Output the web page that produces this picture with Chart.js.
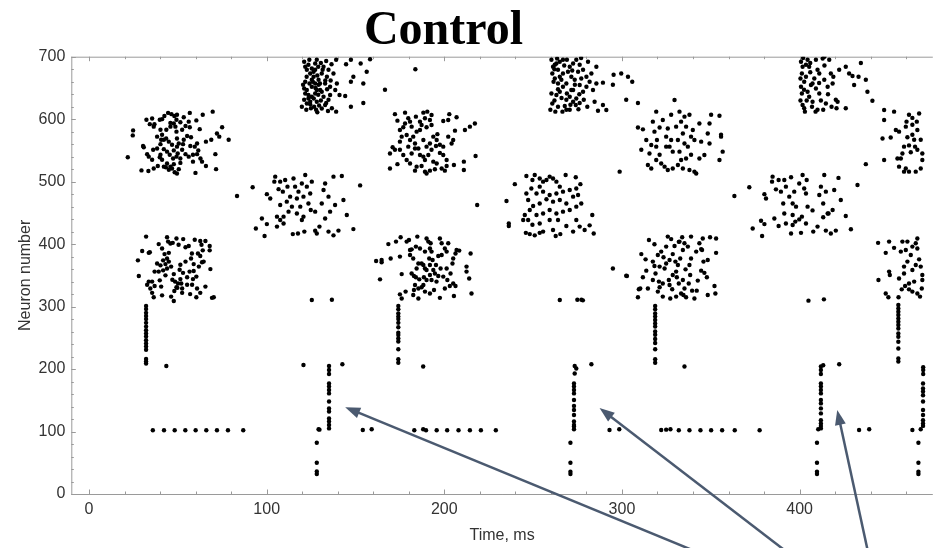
<!DOCTYPE html>
<html>
<head>
<meta charset="utf-8">
<script src="https://cdn.jsdelivr.net/npm/chart.js@4.4.1/dist/chart.umd.min.js"></script>
<style>
  html, body { margin: 0; padding: 0; background: #fff; }
  #wrap { width: 935px; height: 548px; }
</style>
</head>
<body>
<div id="wrap"><canvas id="raster" width="935" height="548"></canvas></div>
<script>
// Spike raster: [time (ms), neuron index] for every spike.

// neurons ~520-610, first wave
const pop520_w1 = [[21.8,539],[24.8,582],[24.6,574],[30.4,557],[30.8,555],[29.5,518],[33.4,517],[32.3,599],[34.2,592],[35.5,601],[36.8,592],[39.8,599],[41.1,600],[42.4,605],[44.5,610],[46.4,608],[48,605],[49.5,607],[53.3,603],[56.7,610],[60.4,598],[64,607],[69.6,612],[74.9,587],[72,577],[73.3,572],[78.6,567],[68.8,567],[65.8,564],[71.1,544],[71.5,520],[65.8,525],[63.6,532],[59.9,514],[60.8,544],[61.5,550],[58.5,543],[57,557],[56.1,540],[55.2,573],[57.4,571],[56.7,587],[56.1,596],[62.3,584],[52.9,560],[52.4,551],[51.4,537],[47.7,528],[45.8,524],[48.2,515],[49.5,513],[50.5,520],[51.4,530],[49.2,540],[47.7,550],[46.7,559],[44.9,564],[43.4,569],[41.1,575],[40.2,583],[43.5,583],[45.8,588],[47.7,593],[48.6,588],[49.2,580],[49.5,569],[49.5,556],[50.5,561],[53.3,567],[54.3,544],[43.9,548],[42.1,552],[40.2,543],[39.8,539],[41.1,535],[43.9,529],[42.1,524],[38.7,525],[36.4,521],[35.5,535],[33.6,540],[32.7,544],[36.1,551],[38.3,553],[40.2,560],[42.1,567],[43.2,523],[44.9,519],[46.7,521],[36.4,588],[38.3,572],[40.6,567],[45.4,543],[47.3,537],[49.9,545],[52.4,583],[54.3,589],[51.4,595],[49.2,599],[45.8,594],[59.5,556],[60.8,561],[58.5,532],[62.7,537]];

// neurons ~300-410, first wave
const pop300_w1 = [[32.1,412],[29.9,389],[33.6,386],[27.5,374],[28,349],[34.2,387],[39.2,400],[43.9,411],[44.5,404],[45.8,401],[47.1,402],[49.2,409],[50.4,399],[53,408],[54.3,395],[56.1,397],[59.5,407],[62.6,405],[65.5,405],[67.9,397],[67.9,390],[63.3,399],[64,390],[61.3,385],[62.6,381],[64.5,372],[63.6,371],[61.8,364],[68.3,360],[57.9,385],[57.4,377],[58.9,368],[56.6,356],[58.9,357],[60.4,348],[58.5,344],[55.2,347],[52.9,354],[51.4,344],[51.9,337],[52.4,329],[50.1,337],[49.2,331],[48,325],[48.4,340],[47.7,352],[51,359],[46.2,364],[44.9,372],[43.9,377],[43,368],[41.7,374],[40.2,366],[38.3,369],[36.9,356],[39.2,356],[41.7,358],[43,350],[43.9,361],[44.9,386],[42.5,384],[41.1,393],[39.8,342],[40.6,332],[36.9,333],[35.5,340],[33.6,340],[32.7,335],[34.5,329],[35.5,322],[36.4,315],[41.1,318],[46.2,316],[49.7,330],[52.4,322],[56.9,320],[60.4,315],[60.8,329],[62.6,322],[65.5,332],[70.2,315],[69.2,314],[55.2,335],[58,335],[47.7,309],[46.9,343],[51.4,367],[54.3,372]];

// neurons ~610-700, first wave
const pop610_w1 = [[121.1,692],[121.7,684],[122.6,679],[123.5,687],[124.5,673],[125.4,681],[126.4,676],[127.3,689],[128.2,695],[125.4,663],[124.1,657],[121.7,660],[121.1,649],[122.6,646.7],[125.4,652],[127.3,657],[128.2,646.7],[121.7,641],[123.5,638.7],[125.4,636],[127.3,641],[121.1,631],[122.6,625],[124.5,628],[119.8,620],[122.3,615],[124.9,617.6],[126.7,620],[123.5,633],[127.3,679],[126.4,668],[129.2,663],[131,673],[132,684],[132.9,657],[133.9,668],[134.8,679],[135.7,652],[137.6,673],[130.1,646.7],[128.2,628],[132,636],[127.8,615],[132.9,622.6],[134.8,631],[136.7,617.6],[139.1,612],[138.6,646.7],[139.5,657],[139.1,695],[144.7,688],[144.2,637],[147.4,695],[148.8,668],[147.4,660],[147.4,620],[152.9,689],[154.4,657],[154.4,626],[156.3,676],[158.2,696],[141,638.7],[135.7,638.7],[129.2,655],
  [130.5,690],[129,684],[131.5,679],[126,660],[128.5,670],[133,662],[130,657],[127.5,650],[131,644],[134,648],[129,639],[126.5,633],[130.5,630],[133.5,626],[129.5,622],[124.5,624],[131,617],[128.5,611],[134.5,613],[136.5,688],[133.5,693],[124,695],[122.5,668],[120.5,655],[136,662]];

// neurons ~420-510, first wave
const pop420_w1 = [[83.3,477],[92.1,491],[100.1,480],[102,473],[104.8,508],[104.3,500],[106.7,488],[107.6,500],[109.1,484],[110.4,502.6],[111.7,492],[113.2,476],[114.2,460],[115.1,505],[116,492],[117,473],[117.9,484],[118.9,460],[119.8,497],[120.7,476],[121.7,510.7],[122.6,492],[123.5,465],[124.5,481],[125.4,500],[124.8,454.6],[111.3,468],[107.6,462.6],[109.5,444],[112.3,452],[117,449],[120.7,444],[127.3,452],[105.8,444],[97.3,441],[93.9,425],[98.8,413],[100.1,432],[105.8,428],[107.6,438.6],[114.7,416],[117.6,417],[121.2,420],[127.3,421.5],[129.7,428],[128.2,417],[109.5,433],[119.8,438.6],[132.9,497],[137.6,508],[142.3,509],[132,486.6],[134.8,476],[131,465],[138.5,462.6],[143.2,470.6],[135.7,452],[145.1,446.6],[152.6,494],[132.9,441],[134.8,420],[137.6,414],[140.4,421.6],[148.8,424]];

// neurons ~520-610, second wave
const pop520_w2 = [[172.2,608],[173.6,597.6],[177.9,610.4],[179.7,601.4],[180.7,596],[184,604],[188.2,610.4],[190.4,612],[189.1,601.4],[187.2,590.7],[190,587],[192.8,590.7],[191.9,598.7],[175,582.7],[176.9,587],[178.8,574.7],[180.7,566.7],[182.5,572],[184.4,580],[186.3,582.7],[183.5,561],[185.4,553],[183.5,553],[188.2,566.7],[190,556],[192.8,551],[191,542.7],[189.1,534.6],[187.2,525],[183.5,517.6],[184.4,524],[180.7,529],[178.8,534.6],[176.9,542.7],[175,551],[172.2,551],[169.4,545],[170.9,555],[173.6,528],[169.4,521],[175,564],[176,572],[179.7,556],[181.6,545],[186.3,542.7],[188.2,540],[193.8,532],[195.7,529],[194.7,519.8],[198.5,521],[200.3,517.6],[201.3,525],[201.3,534.6],[199.4,542.7],[197.5,546],[195.7,566.7],[196.1,576],[193.8,572],[191.9,561],[202.2,572],[204.1,561],[205,566.7],[202.2,598.7],[206.9,603],[206,581.6],[211.6,582.7],[214.4,588],[217.2,593],[217.6,541],[211,532],[211,518.7],[205.4,526.6],[189.1,516],[190,513],[191.9,517.6],[195.3,557],[197.5,559],[199.4,556],[177.9,593],[181.6,588],[186.3,596],[192.8,606.7],[199.4,597],[202.8,608]];

// neurons ~300-410, second wave
const pop300_w2 = [[161.6,373],[164.7,374.6],[164.7,371],[163.8,343.6],[168.5,400],[169.8,377],[172.8,404],[175,380],[175.4,411],[176,352],[178.8,404],[180.1,406.6],[178.2,324],[175,319.6],[176,313],[180.7,390.6],[180.7,382.6],[181.6,391.6],[182.5,377],[184,396],[184.8,412],[185.4,369],[184.4,361],[186.3,393],[182.9,349],[181.6,353],[184,347],[185.9,343.6],[187.2,369],[188.2,366.6],[189.1,361],[190,358.6],[188.5,347],[190,342.6],[189.1,388],[191,404],[192.3,401.3],[191.9,393],[191.5,377],[192.8,388],[193.4,374.6],[191.9,366.6],[193.8,358.6],[191.9,350.6],[192.8,342.6],[194.7,353],[195.6,340],[194.2,326.6],[191.9,321],[189.1,324],[187.2,331],[185.4,313],[182.9,326.6],[183.5,334.6],[182.5,318.6],[197.5,409],[198.5,401.3],[200.3,393],[201.3,388],[202.2,401.3],[198.5,382.6],[197.9,361],[201.3,361],[203.5,353],[204.6,369],[206.3,385],[206.9,390.6],[205,377],[199.4,348],[200.3,329],[201.7,342.6],[203.1,333],[205,337],[206.3,333],[205.4,317],[197.5,314],[195.3,366.6],[196.6,381],[212.5,364],[212.5,356],[214,345],[215.3,321],[214.8,385],[208.4,389.6],[190,409],[196.6,349],[188.2,334.6],[185.4,329]];

// neurons ~610-700, second wave
const pop610_w2 = [[260.3,695],[261.2,684],[263.1,689],[264,679],[265,692],[266.8,695],[260.8,673],[262.2,665],[265,668],[266.8,673],[269.6,676],[270.6,684],[272.5,689],[274.3,695],[276.2,687],[278.1,679],[280.9,692],[280,668],[277.1,665],[281.8,660],[285.6,684],[289.3,658.5],[285.6,657],[283.7,646.7],[280,652],[276.2,654.7],[273.4,663],[271.5,646.7],[268.7,657],[266.8,652],[265,644],[263.1,638.7],[260.3,641],[260.8,625],[259.7,615],[264,620],[267.8,621],[268.7,631],[270.6,636],[272.5,628],[274.3,633],[274,622.6],[270.6,615],[276.2,626],[284.6,628],[286.5,613.6],[291.2,614.6],[289.3,622.6],[294.9,655],[295.3,671],[299.6,673],[302.4,631],[262.2,687],[264,657],[272.5,646.7],[275.3,676],[265.9,663],[268.7,615],[278.1,644],[282.8,673],[303.4,668],[305.8,660],[309,626],
  [262,680],[267.5,686],[261.5,660],[264,648],[262,630],[266,634],[269,641],[271.5,668],[273.5,655],[276,640],[278.5,631],[280.5,620],[262.5,612],[266.5,612],[271,623],[275.5,616],[263.5,697],[269,695],[277,698],[272,678]];

// neurons ~420-510, second wave
const pop420_w2 = [[239.7,496],[246.2,509],[249.6,502.6],[250.9,510.7],[253.7,505],[255.6,500],[257.5,502.6],[259.3,508],[261.2,505],[263.1,500],[265,492],[268.3,510.7],[274,507],[276.6,496],[274.3,489],[270.6,486.6],[266.8,484],[263.1,481],[259.3,478.6],[255.6,484],[253.7,492],[251.9,481],[249,489],[246.2,481],[247.2,470.6],[250,461],[253.7,465],[257.5,471.7],[261.2,468],[265,470.6],[268.7,465],[272.5,476],[275.3,478.6],[277.1,465],[274.3,460],[270.6,454.6],[266.8,452],[263.1,449],[259.3,454.6],[255.6,449],[251.9,446.6],[248.1,454.6],[245.3,446.6],[283.3,446.6],[235,469],[218.5,462.6],[244.4,438.6],[236.3,433],[236.3,429],[247.2,438.6],[245.9,418],[248.1,416],[250.9,414],[249.6,431],[253.7,433],[264,438.6],[255.6,420],[261.2,422.6],[262.7,413],[265.3,416],[268.7,429],[272.5,420],[274.3,438.6],[276.2,428],[279,422.6],[281.8,430],[284.1,417],[259.3,438.6],[253.7,418]];

// neurons ~520-610, third wave
const pop520_w3 = [[309,586.6],[311.8,583.7],[313.7,566.7],[310.9,551],[315.5,545],[319.3,612],[317.4,596],[318.3,580],[319.7,566.7],[316.5,558.7],[319.3,556],[321.2,543],[314.6,526.6],[316.5,521],[319.3,534.6],[322.1,529],[323,598.6],[324.9,572],[325.8,585],[326.8,556],[327.7,607],[328.6,548],[329.6,630.7],[330.5,588],[331.5,566.7],[332.4,612],[333.3,596],[334.3,577],[335.2,561],[336.1,588],[337.1,556],[338,607],[338.9,543],[336.1,537],[333.3,534.6],[331.5,526.6],[328.6,521],[325.8,518.7],[324,524],[334.3,521],[338,518.7],[340.8,516],[341.8,513],[343.6,537],[346.4,542.7],[344.6,564],[343.6,593],[348.3,577],[349.3,561],[350.2,607],[354.9,605.5],[355.8,575],[355.8,572],[356.7,548],[354.9,534.6],[349.3,593],[339.9,582.6],[340.8,566.7],[327.7,566.7],[321.2,586.6],[324.9,556],[332.4,548],[335.2,604],[338.9,572],[298.7,516]];

// neurons ~300-410, third wave
const pop300_w3 = [[302.8,349],[309,315],[310.3,329],[310.9,384],[311.8,347],[313.3,375.6],[313.7,357.5],[314.6,329],[315.2,406.6],[318.3,399.7],[317.4,372],[318.3,365],[318.9,353],[320.2,382.6],[320.8,340],[321.2,331],[322.1,388],[323,316],[323.4,379],[324,361],[324.9,396],[325.8,412],[326.4,342.6],[326.8,334.6],[327.2,313],[327.7,408],[328.3,327.7],[328.6,384],[329.6,397],[330.1,372],[330.5,356],[330.9,347],[331.5,366.6],[332,337],[332.4,404],[332.8,377],[333.3,321],[333.9,411],[334.3,390.6],[334.6,318.6],[335.2,401.3],[335.8,359.6],[336.1,315],[337.1,396],[337.6,337],[338,366.6],[338.4,350.6],[338.9,377],[339.5,325.5],[342.1,325.5],[342.7,341.6],[343.6,401.3],[344.6,357.5],[345.1,390.6],[345.9,372],[346.4,354],[347.8,347],[348.3,374.6],[348.3,318.6],[349.6,411],[352.1,333],[352.6,321],[353,386],[353,409],[345.5,409],[344.6,392],[309.5,327.7],[321.2,364],[324.9,369],[328.6,350.6],[334.3,342.6],[326.8,374.6],[335.2,329],[323,337],[317.4,342.6],[320.2,324],[330.5,316],[340.8,313],[341.8,388],[338.9,412],[332,403.6],[294.9,361],[302.4,349.5]];

// neurons ~610-700, third wave
const pop610_w3 = [[400.8,692],[401.7,684],[401.3,673],[402.6,660],[400.8,652],[401.3,641],[401.7,622.6],[402.6,617.6],[404.5,695],[405.4,684],[403.6,668],[406.4,654.7],[404.5,644],[407.3,628],[405.4,636],[409.2,695],[410.1,679],[408.3,665],[409.2,649],[411.1,641],[410.1,615],[413,697],[413.9,663],[413.3,615],[414.8,625],[415.8,652],[416.7,695],[417.6,673],[418.6,657],[420.4,631],[421.4,628],[420.8,617.6],[422.3,679],[426,684],[426,617.6],[427.9,673],[430.7,654.7],[429.8,669],[433.2,668],[434.5,690],[437.3,663],[438.2,644],[441,629.6],[403.6,687],[407.3,657],[411.1,673],
  [402,698],[406,690],[400.5,665],[402.5,647],[404,630],[407,620],[409,612],[411,658],[414,686],[416,640],[418,620],[406,675],[400.5,630],[403,612],[412,630],[419,668],[414,700]];

// neurons ~420-510, third wave
const pop420_w3 = [[363.3,477],[371.7,491],[380.2,480],[381.1,473],[384.8,508],[384.5,500],[386.7,487.7],[388.2,502.6],[389.5,484],[390.8,465],[391.4,502.6],[392.3,492],[394.2,476],[395.2,507],[396.1,465],[397,484],[398,460],[399.8,497],[401.7,510.7],[402.6,489],[403.6,481],[404,502.6],[404.5,460],[407.3,454],[411.1,478.6],[412,492],[413.3,465],[413.9,510.7],[414.8,484],[416.3,449],[418.6,454.6],[419.5,486.6],[421.9,506],[423.2,470.6],[426,445],[432.6,494.6],[373.6,425],[378.9,413],[378.3,437.5],[380.2,432],[388.2,429],[392.3,433],[395.2,417],[397.6,436],[400.8,418],[403.6,433],[407.7,420],[410.1,428],[414.8,421.6],[417.6,417],[420.4,421.6],[428.9,423.7],[396.1,430.6],[399.8,439.6],[385.8,441],[391.4,449],[396.1,446.6],[401.3,444],[413.3,443],[415.8,449]];

// neurons ~520-610, fourth wave
const pop520_w4 = [[446.7,569],[447.6,598.6],[447.6,614.6],[447.6,534.6],[451.3,570.6],[453.2,612],[454.2,582.6],[455.1,537],[456,580],[456,524],[457.9,545],[458.8,516],[459.8,588],[460.2,596],[460.7,571],[461.6,607],[461.6,558],[462.6,547],[463.5,602],[463.5,591],[464.5,567],[465,556],[465.4,516],[466,596],[466.3,582.6],[467.3,609],[468.2,567],[468.2,521],[469.1,545],[469.1,534.6],[463.5,575],[458.8,556],[457,537],[459.8,521],[461.6,516],[466.3,551],[437.3,528]];

// neurons ~300-410, fourth wave
const pop300_w4 = [[444.2,402],[448.5,386],[450.4,404],[450.4,356],[450.8,350.6],[444.4,342.6],[448.5,321],[450,315],[453.2,394],[455.7,315],[456,345],[457,388],[457.9,404],[458.8,364],[458.8,353],[459.4,333],[460.7,404],[461.6,327.6],[462.6,382.6],[463.5,396],[463.5,358.6],[464.5,340],[465.4,401.3],[466.3,409],[466.3,321],[467.3,375.6],[467.8,316],[468.2,364],[468.8,329],[469.1,350.6],[469.1,342.6],[463.5,324],[460.7,372],[465.4,366.6],[459.8,390.6],[466.3,393],[457.5,327.6],[461.6,337]];

// neurons ~210-300, one column per wave
const pop210_col1 = [[32.1,301],[32.1,296],[32.1,290],[32.1,285],[32.1,280],[32.1,274],[32.1,268],[32.1,262],[32.1,257],[32.1,252],[32.1,246],[32.1,241],[32.1,236],[32.1,231],[32.1,216],[32.1,212],[32.1,209]];
const pop210_col2 = [[174.1,301],[174.1,295.6],[174.1,289],[174.1,284],[174.1,280],[174.1,274],[174.1,267],[174.1,258],[174.1,254.6],[174.1,249],[174.1,244],[174.1,231.6],[174.1,215.6],[174.1,210]];
const pop210_col3 = [[318.7,301],[318.7,295.6],[318.7,289],[318.7,284],[318.7,278.5],[318.7,273],[318.7,268],[318.7,260],[318.7,255],[318.7,248],[318.7,241.6],[318.7,231.6],[318.7,215.6],[318.7,210]];
const pop210_col4 = [[455.6,302.6],[455.6,297],[455.6,291.8],[455.6,286.5],[455.6,281],[455.6,275.8],[455.6,270.5],[455.6,265],[455.6,257],[455.6,251.8],[455.6,243.8],[455.6,233],[455.6,217],[455.6,212]];

// neurons ~100-205, one column per wave
const pop100_col1 = [[135.1,205],[135.1,198.5],[135.1,192],[135.1,177],[135.1,172],[135.1,166.5],[135.1,161],[135.1,148],[135.1,137],[135.1,132],[135.1,121],[135.1,116],[135.1,110.5],[135.1,105]];
const pop100_col2 = [[273.4,205],[274.3,201],[273.4,193],[273,177],[273,172],[273,166.5],[273,161],[273,150.5],[273,141],[273,134.5],[273,126.5],[273,116],[273,110.5],[273,108],[273,103.6]];
const pop100_col3 = [[412,204],[413.3,206],[412,198.5],[412,192],[412,177],[412,172],[412,166.5],[412,161],[412,150.5],[412,145],[412,137],[412,129],[412,118],[412,113],[412,109],[412,105]];
const pop100_col4 = [[469.6,203],[469.6,198.5],[469.6,192],[469.5,177],[469.5,169],[469.5,164],[469.5,158],[469.5,148],[469.5,134.5],[469.5,126.5],[469.5,118],[469.5,113],[469.5,109]];

// neurons below 100
const pop30_spikes = [[128.2,82],[128.2,50],[128.2,36],[128.2,32],[271,82],[271,50],[271,35.8],[271,32],[409.8,82],[409.8,50],[409.8,35.8],[409.8,32],[466.9,82],[466.9,50],[466.9,35.8],[466.9,32]];

// neuron ~102, tonic firing
const neuron102 = [[35.9,102],[42.2,102],[48.2,102],[54.2,102],[60,102],[66,102],[72,102],[78.2,102],[86.8,102],[129.2,103.6],[129.7,103],[154.1,102.5],[159.1,103.6],[183.1,102],[188.1,103.6],[189.7,102],[195.7,102],[201.6,102],[208,102],[214.4,102],[220.6,102],[229,102],[293,102.5],[298.5,103.6],[322.1,102.5],[324.9,103],[327.3,103.6],[332,102],[338,102],[344.2,102],[350.2,102],[356.4,102],[363.5,102],[377.5,102],[410.5,103.6],[433.5,102.5],[439.2,103.6],[463.5,102.5],[468.2,103.6]];

// isolated spikes
const strays = [[43.5,205],[120.7,206.5],[125.4,310.5],[136.7,311],[142.6,207.6],[188.1,204],[166.6,647],[183.7,680],[265,310.6],[274.9,311],[277.2,311],[278,310],[282.8,207.6],[335.2,204],[405,309.5],[413.7,311.6],[422.3,207.6]];

// annotation arrows: [tip, tail] in axis units
const arrowTips  = [[144.2,139],[287.4,137.7],[421.2,134.5]];
const arrowTails = [[353.2,-105.6],[398.7,-105.6],[439.5,-105.6]];

const xTickValues = [0,100,200,300,400];
const yTickValues = [0,100,200,300,400,500,600,700];

const spikeGroups = [
  pop520_w1, pop300_w1, pop610_w1, pop420_w1,
  pop520_w2, pop300_w2, pop610_w2, pop420_w2,
  pop520_w3, pop300_w3, pop610_w3, pop420_w3,
  pop520_w4, pop300_w4,
  pop210_col1, pop210_col2, pop210_col3, pop210_col4,
  pop100_col1, pop100_col2, pop100_col3, pop100_col4,
  pop30_spikes, neuron102, strays
];

const AXIS_GREY = '#9a9a9a';
const LABEL_INK = '#333333';
const ARROW_INK = '#4b5a70';

// frame line along the top plus inward tick marks on all drawn edges
const framePlugin = {
  id: 'frame',
  beforeDatasetsDraw(chart) {
    const { ctx, chartArea: a, scales: { x, y } } = chart;
    ctx.save();
    ctx.strokeStyle = AXIS_GREY;
    ctx.lineWidth = 1;
    ctx.beginPath();
    ctx.moveTo(a.left, a.top + 0.5); ctx.lineTo(a.right, a.top + 0.5);
    ctx.moveTo(a.left, a.bottom + 0.5); ctx.lineTo(a.right, a.bottom + 0.5);
    ctx.moveTo(a.left + 0.5, a.top); ctx.lineTo(a.left + 0.5, a.bottom + 0.5);
    for (let v = 0; v <= x.max; v += 20) {
      const px = Math.round(x.getPixelForValue(v)) + 0.5;
      const len = v % 100 === 0 ? 4.5 : 2.5;
      ctx.moveTo(px, a.bottom); ctx.lineTo(px, a.bottom - len);
      ctx.moveTo(px, a.top); ctx.lineTo(px, a.top + len);
    }
    for (let v = 0; v <= y.max; v += 20) {
      const py = Math.round(y.getPixelForValue(v)) + 0.5;
      const len = v % 100 === 0 ? 4.5 : 2.5;
      ctx.moveTo(a.left, py); ctx.lineTo(a.left + len, py);
    }
    ctx.stroke();
    ctx.restore();
  }
};

// title and annotation arrows
const overlayPlugin = {
  id: 'overlay',
  afterDraw(chart) {
    const { ctx, scales: { x, y } } = chart;
    ctx.save();
    ctx.fillStyle = '#000';
    ctx.font = 'bold 48px "Liberation Serif", "Times New Roman", serif';
    ctx.textAlign = 'center';
    ctx.textBaseline = 'alphabetic';
    ctx.fillText('Control', 443.5, 43.5);

    ctx.strokeStyle = ARROW_INK;
    ctx.fillStyle = ARROW_INK;
    ctx.lineWidth = 2.5;
    arrowTips.forEach((tip, i) => {
      const tail = arrowTails[i];
      const x1 = x.getPixelForValue(tail[0]), y1 = y.getPixelForValue(tail[1]);
      const x2 = x.getPixelForValue(tip[0]),  y2 = y.getPixelForValue(tip[1]);
      const ang = Math.atan2(y2 - y1, x2 - x1);
      const headLen = 15, headHalf = 5.5;
      const bx = x2 - headLen * Math.cos(ang), by = y2 - headLen * Math.sin(ang);
      ctx.beginPath();
      ctx.moveTo(x1, y1);
      ctx.lineTo(bx + 2 * Math.cos(ang), by + 2 * Math.sin(ang));
      ctx.stroke();
      ctx.beginPath();
      ctx.moveTo(x2, y2);
      ctx.lineTo(bx + headHalf * Math.sin(ang), by - headHalf * Math.cos(ang));
      ctx.lineTo(bx - headHalf * Math.sin(ang), by + headHalf * Math.cos(ang));
      ctx.closePath();
      ctx.fill();
    });
    ctx.restore();
  }
};

const tickFont = { family: '"Liberation Sans", Arial, sans-serif', size: 16 };

new Chart(document.getElementById('raster'), {
  type: 'scatter',
  data: {
    datasets: spikeGroups.map(g => ({
      data: g.map(([t, n]) => ({ x: t, y: n })),
      pointRadius: 2.2,
      pointHoverRadius: 2.2,
      pointBorderWidth: 0,
      pointBackgroundColor: '#000',
      showLine: false
    }))
  },
  options: {
    responsive: false,
    animation: false,
    events: [],
    layout: { padding: { top: 56.7, right: 1, left: 0, bottom: 0 } },
    plugins: { legend: { display: false }, tooltip: { enabled: false }, title: { display: false } },
    scales: {
      x: {
        type: 'linear',
        min: -10,
        max: 475,
        afterFit: s => { s.height = 54; },
        afterBuildTicks: s => { s.ticks = xTickValues.map(v => ({ value: v })); },
        grid: { display: false, drawTicks: false },
        border: { display: false },
        ticks: { color: LABEL_INK, font: tickFont, padding: 6, maxRotation: 0, autoSkip: false },
        title: { display: true, text: 'Time, ms', color: LABEL_INK, font: tickFont, padding: { top: 0, bottom: 3 } }
      },
      y: {
        type: 'linear',
        min: 0,
        max: 700,
        afterFit: s => { s.width = 71.3; },
        afterBuildTicks: s => { s.ticks = yTickValues.map(v => ({ value: v })); },
        grid: { display: false, drawTicks: false },
        border: { display: false },
        ticks: { color: LABEL_INK, font: tickFont, padding: 6, autoSkip: false },
        title: { display: true, text: 'Neuron number', color: LABEL_INK, font: tickFont, padding: { top: 16, bottom: 0 } }
      }
    }
  },
  plugins: [framePlugin, overlayPlugin]
});
</script>
</body>
</html>
